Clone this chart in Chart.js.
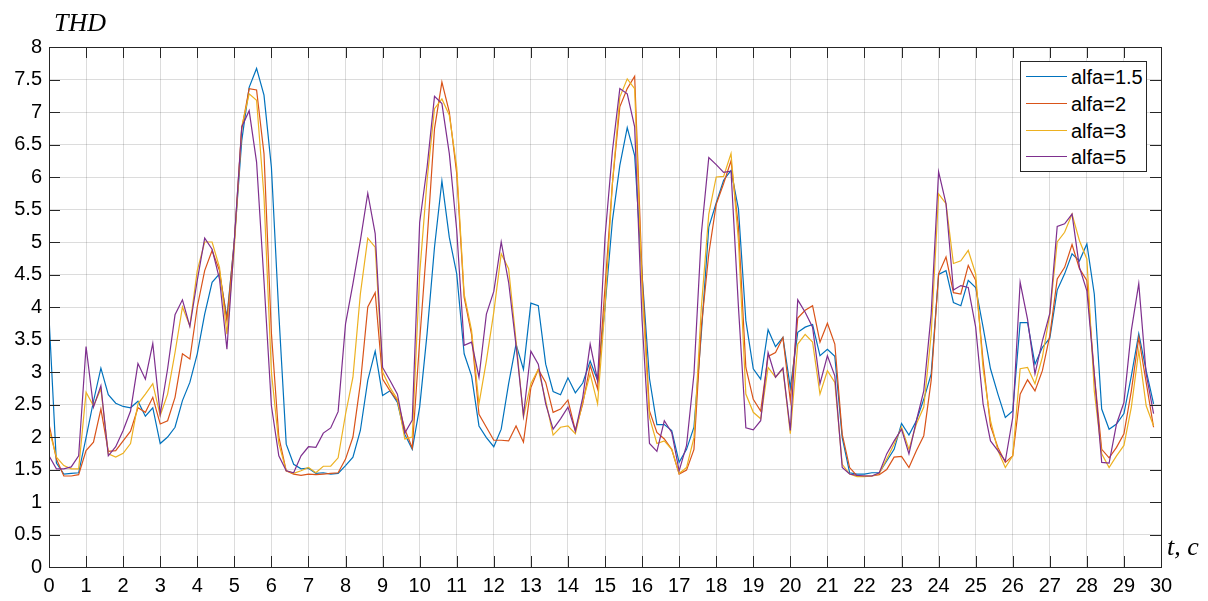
<!DOCTYPE html>
<html>
<head>
<meta charset="utf-8">
<script src="https://cdn.jsdelivr.net/npm/chart.js@4/dist/chart.umd.min.js"></script>
<style>
  html,body{margin:0;padding:0;background:#fff;}
  #wrap{position:relative;width:1208px;height:601px;overflow:hidden;}
  canvas{position:absolute;left:0;top:0;}
  .ax{position:absolute;font-family:"Liberation Serif","DejaVu Serif",serif;font-style:italic;font-size:26px;line-height:26px;color:#000;white-space:nowrap;}
  #legend{position:absolute;left:1020px;top:61px;width:125px;height:109px;background:#fff;border:1px solid #262626;font-family:"Liberation Sans",Arial,sans-serif;font-size:20px;color:#000;}
  .row{position:absolute;left:0;height:26px;line-height:26px;white-space:nowrap;}
  .sw{position:absolute;left:5px;top:12px;width:41px;height:0;border-top:1.4px solid;}
  .lt{position:absolute;left:50px;top:0;}
</style>
</head>
<body>
<div id="wrap">
  <canvas id="c" width="1208" height="601"></canvas>
  <div class="ax" style="left:54px;top:10px;">THD</div>
  <div class="ax" style="left:1167px;top:534px;">t, c</div>
  <div id="legend"></div>
</div>
<script>
// time axis (s)
const tValues = [0,0.2,0.4,0.6,0.8,1,1.2,1.4,1.6,1.8,2,2.2,2.4,2.6,2.8,3,3.2,3.4,3.6,3.8,4,4.2,4.4,4.6,4.8,5,5.2,5.4,5.6,5.8,
6,6.2,6.4,6.6,6.8,7,7.2,7.4,7.6,7.8,8,8.2,8.4,8.6,8.8,9,9.2,9.4,9.6,9.8,10,10.2,10.4,10.6,10.8,11,11.2,11.4,11.6,11.8,
12,12.2,12.4,12.6,12.8,13,13.2,13.4,13.6,13.8,14,14.2,14.4,14.6,14.8,15,15.2,15.4,15.6,15.8,16,16.2,16.4,16.6,16.8,17,17.2,17.4,17.6,17.8,
18,18.2,18.4,18.6,18.8,19,19.2,19.4,19.6,19.8,20,20.2,20.4,20.6,20.8,21,21.2,21.4,21.6,21.8,22,22.2,22.4,22.6,22.8,23,23.2,23.4,23.6,23.8,
24,24.2,24.4,24.6,24.8,25,25.2,25.4,25.6,25.8,26,26.2,26.4,26.6,26.8,27,27.2,27.4,27.6,27.8,28,28.2,28.4,28.6,28.8,29,29.2,29.4,29.6,29.8];

const alfa15 = [3.85,1.6,1.43,1.44,1.45,1.99,2.55,3.06,2.65,2.52,2.47,2.45,2.55,2.32,2.45,1.9,2.0,2.15,2.56,2.84,
3.28,3.89,4.38,4.51,3.84,5.02,6.56,7.38,7.67,7.26,6.15,3.9,1.89,1.58,1.51,1.52,1.44,1.45,1.43,1.44,
1.56,1.69,2.1,2.87,3.32,2.64,2.71,2.53,2.04,1.81,2.46,3.59,4.92,5.94,5.07,4.51,3.28,2.94,2.17,1.99,
1.85,2.12,2.82,3.43,3.04,4.06,4.02,3.12,2.70,2.65,2.91,2.68,2.83,3.17,2.87,4.0,5.33,6.18,6.76,6.33,
4.5,2.9,2.19,2.19,2.1,1.61,1.81,2.15,3.6,5.23,5.6,5.95,6.1,5.51,3.79,3.05,2.89,3.65,3.39,3.53,
2.76,3.61,3.69,3.73,3.25,3.35,3.24,1.99,1.45,1.43,1.43,1.45,1.45,1.63,1.81,2.21,2.03,2.25,2.58,2.97,
4.5,4.56,4.07,4.02,4.41,4.3,3.69,3.05,2.66,2.3,2.4,3.76,3.76,3.12,3.38,3.52,4.26,4.51,4.82,4.71,
4.97,4.2,2.43,2.12,2.2,2.36,2.94,3.59,3.02,2.51];

const alfa2 = [2.2,1.66,1.4,1.4,1.42,1.79,1.92,2.43,1.78,1.79,1.94,2.09,2.45,2.38,2.61,2.2,2.25,2.61,3.28,3.2,
4.0,4.56,4.87,4.56,3.79,5.02,6.74,7.36,7.34,6.36,3.6,2.0,1.48,1.43,1.41,1.43,1.42,1.43,1.44,1.45,
1.66,2.0,2.82,4.0,4.22,2.89,2.71,2.56,2.12,1.83,3.48,5.02,6.74,7.46,7.0,6.05,4.15,3.58,2.35,2.15,
1.95,1.95,1.94,2.17,1.92,2.76,3.04,2.84,2.38,2.43,2.57,2.1,2.51,3.1,2.74,4.3,5.9,7.08,7.36,7.55,
4.5,2.4,2.07,1.97,1.81,1.43,1.49,1.81,3.7,4.82,5.58,5.9,6.25,5.23,3.07,2.58,2.4,3.24,3.3,3.53,
2.56,3.83,3.95,4.02,3.46,3.75,3.43,2.04,1.53,1.4,1.4,1.4,1.42,1.5,1.69,1.7,1.53,1.79,2.02,2.87,
4.51,4.77,4.22,4.2,4.64,4.41,3.17,2.17,1.84,1.61,1.71,2.66,2.88,2.71,3.02,3.56,4.43,4.61,4.96,4.59,
4.41,2.97,1.81,1.68,1.84,2.05,2.71,3.53,2.84,2.15];

const alfa3 = [2.12,1.69,1.56,1.51,1.51,2.69,2.48,2.74,1.74,1.69,1.75,1.9,2.51,2.66,2.82,2.33,2.66,3.3,4.0,3.71,
4.56,5.0,5.0,4.61,3.58,4.92,6.77,7.28,7.18,5.7,3.0,1.9,1.48,1.44,1.48,1.53,1.45,1.55,1.55,1.68,
2.35,2.92,4.2,5.06,4.92,3.0,2.76,2.58,1.97,2.0,4.51,5.95,7.05,7.2,6.95,6.15,4.2,3.64,2.51,3.17,
3.92,4.82,4.59,3.48,2.31,2.82,3.04,2.56,2.03,2.15,2.17,2.05,2.54,2.97,2.51,4.0,5.9,7.23,7.51,7.36,
4.3,2.3,1.9,1.94,1.81,1.44,1.53,1.99,4.0,5.43,6.0,6.01,6.36,5.02,2.66,2.38,2.28,3.07,2.92,3.05,
2.05,3.43,3.58,3.46,2.66,3.02,2.84,1.58,1.43,1.39,1.39,1.4,1.44,1.66,1.89,2.15,1.81,2.2,2.46,3.58,
5.74,5.59,4.67,4.71,4.87,4.51,3.05,2.25,1.79,1.53,1.71,3.05,3.07,2.82,3.23,3.89,5.0,5.15,5.43,5.02,
4.74,2.71,1.74,1.53,1.71,1.87,2.46,3.33,2.48,2.17];

const alfa5 = [1.71,1.51,1.51,1.54,1.71,3.39,2.46,2.79,1.71,1.85,2.1,2.4,3.13,2.89,3.44,2.35,3.05,3.88,4.11,3.7,
4.41,5.06,4.89,4.43,3.35,5.02,6.77,7.02,6.23,4.4,2.48,1.71,1.48,1.45,1.71,1.85,1.84,2.06,2.14,2.39,
3.74,4.36,5.02,5.75,5.13,3.07,2.87,2.66,2.06,2.26,5.3,6.15,7.24,7.13,6.36,5.18,3.41,3.46,2.92,3.89,
4.24,5.0,4.38,3.41,2.33,3.32,3.12,2.51,2.12,2.28,2.46,2.09,2.61,3.43,2.87,5.07,6.4,7.36,7.28,6.77,
3.8,1.9,1.78,2.25,2.07,1.48,1.87,2.97,5.13,6.3,6.19,6.07,6.09,4.0,2.14,2.11,2.25,3.3,2.92,3.06,
2.1,4.11,3.92,3.69,2.82,3.25,2.94,1.53,1.43,1.41,1.4,1.4,1.45,1.74,1.94,2.12,1.74,2.25,2.71,3.89,
6.08,5.59,4.26,4.33,4.3,3.69,2.51,1.94,1.79,1.63,2.3,4.38,3.81,2.97,3.48,3.9,5.24,5.28,5.43,4.61,
4.25,2.97,1.61,1.6,2.2,2.53,3.64,4.36,2.97,2.36];

const seriesNames = ['alfa=1.5','alfa=2','alfa=3','alfa=5'];
const seriesColors = ['#0072BD','#D95319','#EDB120','#7E2F8E'];
const seriesValues = [alfa15, alfa2, alfa3, alfa5];

const xMin = 0, xMax = 30, xStep = 1;
const yMin = 0, yMax = 8, yStep = 0.5;

const FONT = "'Liberation Sans', Arial, sans-serif";
const AX = '#262626';

const datasets = seriesValues.map((vals, i) => ({
  label: seriesNames[i],
  data: vals.map((v, k) => ({x: tValues[k], y: v})),
  borderColor: seriesColors[i],
  backgroundColor: seriesColors[i],
  borderWidth: 1.2,
  pointRadius: 0,
  tension: 0,
  fill: false,
  order: seriesValues.length - i
}));

const boxPlugin = {
  id: 'box',
  afterDraw(chart) {
    const {ctx, chartArea: a, scales: {x, y}} = chart;
    const L = 11;
    ctx.save();
    ctx.strokeStyle = AX;
    ctx.lineWidth = 1;
    ctx.beginPath();
    x.ticks.forEach(t => {
      const px = Math.round(x.getPixelForValue(t.value)) + 0.5;
      ctx.moveTo(px, a.bottom); ctx.lineTo(px, a.bottom - L);
      ctx.moveTo(px, a.top); ctx.lineTo(px, a.top + L);
    });
    y.ticks.forEach(t => {
      const py = Math.round(y.getPixelForValue(t.value)) + 0.5;
      ctx.moveTo(a.left, py); ctx.lineTo(a.left + L, py);
      ctx.moveTo(a.right, py); ctx.lineTo(a.right - L, py);
    });
    ctx.stroke();
    ctx.strokeRect(Math.round(a.left) + 0.5, Math.round(a.top) + 0.5,
                   Math.round(a.right) - Math.round(a.left), Math.round(a.bottom) - Math.round(a.top));
    ctx.restore();
  }
};

new Chart(document.getElementById('c'), {
  type: 'line',
  data: { datasets },
  options: {
    responsive: false,
    animation: false,
    devicePixelRatio: 1,
    parsing: true,
    layout: { padding: { top: 47, right: 47, left: 0, bottom: 0 } },
    plugins: { legend: { display: false }, tooltip: { enabled: false } },
    scales: {
      x: {
        type: 'linear', min: xMin, max: xMax,
        afterFit(s) { s.height = 34; },
        ticks: { stepSize: xStep, padding: 7, color: '#000', font: { family: FONT, size: 20 }, maxRotation: 0, autoSkip: false,
                 callback: v => String(v) },
        grid: { color: 'rgba(38,38,38,0.16)', lineWidth: 1, drawTicks: false },
        border: { display: false }
      },
      y: {
        type: 'linear', min: yMin, max: yMax,
        afterFit(s) { s.width = 49; },
        ticks: { stepSize: yStep, padding: 7, color: '#000', font: { family: FONT, size: 20 }, autoSkip: false,
                 callback: v => String(v) },
        grid: { color: 'rgba(38,38,38,0.16)', lineWidth: 1, drawTicks: false },
        border: { display: false }
      }
    }
  },
  plugins: [boxPlugin]
});

// legend (inside the axes, top right)
const lg = document.getElementById('legend');
seriesNames.forEach((n, i) => {
  const r = document.createElement('div');
  r.className = 'row';
  r.style.top = (2 + i * 26.8) + 'px';
  r.innerHTML = '<div class="sw" style="border-color:' + seriesColors[i] + '"></div><div class="lt">' + n + '</div>';
  lg.appendChild(r);
});
</script>
</body>
</html>
